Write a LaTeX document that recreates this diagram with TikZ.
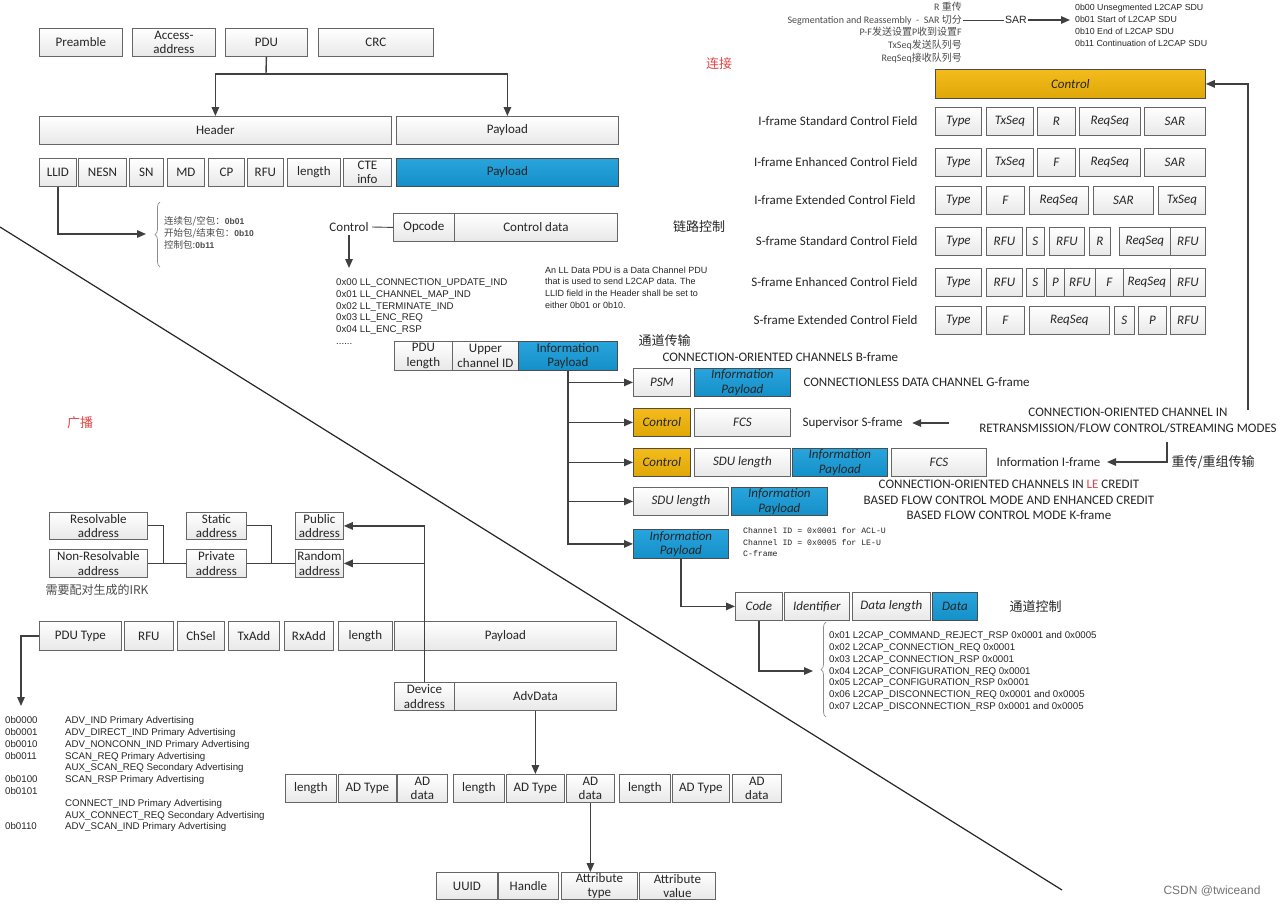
\documentclass[tikz,border=0pt]{standalone}
\usepackage{fontspec}
\setmainfont{Carlito}
\newfontfamily\arialf{Liberation Sans}
\newfontfamily\monof{Liberation Mono}
\newfontfamily\cjk{Noto Sans CJK SC}
\usetikzlibrary{arrows.meta,decorations.pathreplacing}
\definecolor{paybl}{RGB}{22,156,218}
\definecolor{ctlor}{RGB}{242,182,8}
\definecolor{lnc}{RGB}{64,64,64}
\definecolor{redl}{RGB}{222,70,70}
\newcommand{\bcode}[1]{{\arialf\bfseries\fontsize{8.5}{12}\selectfont #1}}
\begin{document}
\begin{tikzpicture}[x=1pt, y=-1pt,
  every node/.style={font=\fontsize{13}{14.5}\selectfont, text=black!85},
  wd/.style={minimum width=#1pt},
  ht/.style={minimum height=#1pt},
  fld/.style={draw=black!60, top color=white, bottom color=black!9, line width=0.8pt, anchor=north west,
    minimum height=28pt, inner sep=0.5pt, align=center},
  fldi/.style={fld, font=\fontsize{13}{14.5}\selectfont\itshape},
  blu/.style={top color=paybl!92!white, bottom color=paybl!92!black, draw=black!70},
  org/.style={top color=ctlor!92!white, bottom color=ctlor!92!black, draw=black!70},
  ln/.style={draw=lnc, line width=1.4pt},
  lnthin/.style={draw=lnc, line width=0.9pt},
  arr/.style={ln, -{Triangle[length=9pt,width=7.5pt]}},
  brc/.style={draw=black!45, line width=0.7pt, decorate, decoration={brace, amplitude=5pt}},
  lst/.style={anchor=north west, align=left, inner sep=0pt, font=\arialf\fontsize{9.7}{11.8}\selectfont},
  sml/.style={anchor=east, inner sep=1pt, text=black!70, font=\fontsize{10}{12}\selectfont},
  zh/.style={font=\cjk\fontsize{13}{15}\selectfont},
  redtag/.style={font=\cjk\fontsize{13}{15}\selectfont, text=redl}]
\useasboundingbox (0,0) rectangle (1280,906);
\fill[white] (0,0) rectangle (1280,906);

% link layer packet
\node[fld, wd=83] (pre) at (39,28) {Preamble};
\node[fld, wd=83] (acc) at (132,28) {Access-\\address};
\node[fld, wd=82] (pdu) at (225,28) {PDU};
\node[fld, wd=115] (crc) at (318,28) {CRC};
\node[fld, wd=352] (hdr) at (39,116) {Header};
\node[fld, wd=222] (pay) at (396,116) {Payload};
% data channel PDU header
\node[fld, wd=37] (llid) at (39,158) {LLID};
\node[fld, wd=48] (nesn) at (78,158) {NESN};
\node[fld, wd=34] (sn) at (129,158) {SN};
\node[fld, wd=37] (md) at (167,158) {MD};
\node[fld, wd=36] (cp) at (208,158) {CP};
\node[fld, wd=36] (rfu) at (247,158) {RFU};
\node[fld, wd=53] (len) at (287,158) {length};
\node[fld, wd=48] (cte) at (343,158) {CTE\\info};
\node[fld, blu, wd=222] (dpay) at (396,158) {Payload};
\node[anchor=north west, align=left, inner sep=0pt, text=black!70,
  font=\cjk\fontsize{9.5}{12}\selectfont] (llinfo) at (164,216)
  {连续包/空包：\bcode{0b01}\\开始包/结束包：\bcode{0b10}\\控制包:\bcode{0b11}};
\node[redtag] (conn) at (719,64) {连接};
% LL control PDU
\node (ctltxt) at (349,227) {Control};
\node[fld, wd=61] (opc) at (393,213) {Opcode};
\node[fld, wd=163] (cdat) at (454,213) {Control data};
\node[zh] (lkctl) at (699,227) {链路控制};
\coordinate (ctlend) at (349,268);
\node[lst] (llctl) at (336,278.5) {0x00 LL\_CONNECTION\_UPDATE\_IND\\0x01 LL\_CHANNEL\_MAP\_IND\\0x02 LL\_TERMINATE\_IND\\0x03 LL\_ENC\_REQ\\0x04 LL\_ENC\_RSP\\......};
\node[lst, font=\arialf\fontsize{9}{11.7}\selectfont] (anll) at (545,266.5)
  {An LL Data PDU is a Data Channel PDU\\that is used to send L2CAP data. The\\LLID field in the Header shall be set to\\either 0b01 or 0b10.};
% L2CAP basic header
\node[fld, wd=58, ht=29] (plen) at (394,341) {PDU\\length};
\node[fld, wd=66, ht=29] (uch) at (452,341) {Upper\\channel ID};
\node[fld, blu, wd=99, ht=29] (ipay) at (518,341) {Information\\Payload};
% L2CAP frames
\node[zh, anchor=west] (chtx) at (635,341) {通道传输};
\node[anchor=west] (bfr) at (659,357) {CONNECTION-ORIENTED CHANNELS B-frame};
\node[fldi, wd=57] (psm) at (633,368) {PSM};
\node[fldi, blu, wd=96] (gpl) at (694,368) {Information\\Payload};
\node[anchor=west] (gfr) at (800,382) {CONNECTIONLESS DATA CHANNEL G-frame};
\node[fldi, org, wd=57] (sctl) at (633,408) {Control};
\node[fldi, wd=96] (sfcs) at (694,408) {FCS};
\node[anchor=west] (sfr) at (799,423) {Supervisor S-frame};
\coordinate (svsrc) at (949,423);
\node[align=center, font=\fontsize{13}{16}\selectfont] (coc) at (1128,421)
  {CONNECTION-ORIENTED CHANNEL IN\\RETRANSMISSION/FLOW CONTROL/STREAMING MODES};
\node[fldi, org, wd=57] (ictl) at (633,448) {Control};
\node[fldi, wd=96] (isdu) at (694,448) {SDU length};
\node[fldi, blu, wd=95] (ipl) at (792,448) {Information\\Payload};
\node[fldi, wd=95] (ifcs) at (891,448) {FCS};
\node[anchor=west] (ifr) at (993,462) {Information I-frame};
\coordinate (rtsrc) at (1167,442);
\node[zh, anchor=west] (rtx) at (1168,462) {重传/重组传输};
\node[fldi, wd=95] (ksdu) at (633,487) {SDU length};
\node[fldi, blu, wd=96] (kpl) at (731,487) {Information\\Payload};
\node[align=center, font=\fontsize{13}{15.5}\selectfont] (kfr) at (1009,500)
  {CONNECTION-ORIENTED CHANNELS IN {\color{redl}LE} CREDIT\\BASED FLOW CONTROL MODE AND ENHANCED CREDIT\\BASED FLOW CONTROL MODE K-frame};
\node[fldi, blu, wd=95, ht=29] (cpl) at (633,529) {Information\\Payload};
\node[lst, font=\monof\fontsize{8.2}{11.5}\selectfont] (cid) at (743,527.5)
  {Channel ID = 0x0001 for ACL-U\\Channel ID = 0x0005 for LE-U\\C-frame};
% signaling packet
\node[fldi, wd=47] (code) at (735,592) {Code};
\node[fldi, wd=65] (ident) at (784,592) {Identifier};
\node[fldi, wd=78] (dlen) at (852,592) {Data length};
\node[fldi, blu, wd=45] (cdata) at (932,592) {Data};
\node[zh, anchor=west] (sigctl) at (1006,607) {通道控制};
\coordinate (sigtip) at (813,671);
\node[lst] (siglist) at (829,631.5) {0x01 L2CAP\_COMMAND\_REJECT\_RSP 0x0001 and 0x0005\\0x02 L2CAP\_CONNECTION\_REQ 0x0001\\0x03 L2CAP\_CONNECTION\_RSP 0x0001\\0x04 L2CAP\_CONFIGURATION\_REQ 0x0001\\0x05 L2CAP\_CONFIGURATION\_RSP 0x0001\\0x06 L2CAP\_DISCONNECTION\_REQ 0x0001 and 0x0005\\0x07 L2CAP\_DISCONNECTION\_RSP 0x0001 and 0x0005};

% control field formats
\node[sml] (rlbl) at (963,7) {R {\cjk 重传}};
\node[sml] (sarlbl) at (963,20) {Segmentation and Reassembly ~-~ SAR {\cjk 切分}};
\node[sml] (pflbl) at (963,32) {P-F{\cjk 发送设置}P{\cjk 收到设置}F};
\node[sml] (txlbl) at (963,45) {TxSeq{\cjk 发送队列号}};
\node[sml] (rqlbl) at (963,58) {ReqSeq{\cjk 接收队列号}};
\node[inner sep=1pt, font=\arialf\fontsize{10.5}{12}\selectfont] (sarmid) at (1016,20) {SAR};
\node[lst, font=\arialf\fontsize{8.8}{12.3}\selectfont] (sarlist) at (1075,3.5)
  {0b00 Unsegmented L2CAP SDU\\0b01 Start of L2CAP SDU\\0b10 End of L2CAP SDU\\0b11 Continuation of L2CAP SDU};
\node[fldi, org, wd=270, ht=29] (ctlbig) at (935,69) {Control};
\coordinate (retop) at (1248,410);
\node[anchor=east] (lb1) at (921,121) {I-frame Standard Control Field};
\node[fldi, wd=46] (r1a) at (935,107) {Type};
\node[fldi, wd=47] (r1b) at (986,107) {TxSeq};
\node[fldi, wd=38] (r1c) at (1037,107) {R};
\node[fldi, wd=61] (r1d) at (1079,107) {ReqSeq};
\node[fldi, wd=61] (r1e) at (1144,107) {SAR};
\node[anchor=east] (lb2) at (921,162) {I-frame Enhanced Control Field};
\node[fldi, wd=46] (r2a) at (935,148) {Type};
\node[fldi, wd=47] (r2b) at (986,148) {TxSeq};
\node[fldi, wd=38] (r2c) at (1037,148) {F};
\node[fldi, wd=61] (r2d) at (1079,148) {ReqSeq};
\node[fldi, wd=61] (r2e) at (1144,148) {SAR};
\node[anchor=east] (lb3) at (919,200) {I-frame Extended Control Field};
\node[fldi, wd=46] (r3a) at (935,186) {Type};
\node[fldi, wd=38] (r3b) at (986,186) {F};
\node[fldi, wd=59] (r3c) at (1029,186) {ReqSeq};
\node[fldi, wd=60] (r3d) at (1093,186) {SAR};
\node[fldi, wd=47] (r3e) at (1158,186) {TxSeq};
\node[anchor=east] (lb4) at (921,241) {S-frame Standard Control Field};
\node[fldi, wd=46] (r4a) at (935,227) {Type};
\node[fldi, wd=36] (r4b) at (986,227) {RFU};
\node[fldi, wd=18] (r4c) at (1026,227) {S};
\node[fldi, wd=35] (r4d) at (1049,227) {RFU};
\node[fldi, wd=21] (r4e) at (1089,227) {R};
\node[fldi, wd=51] (r4f) at (1119,227) {ReqSeq};
\node[fldi, wd=35] (r4g) at (1170,227) {RFU};
\node[anchor=east] (lb5) at (921,282) {S-frame Enhanced Control Field};
\node[fldi, wd=46] (r5a) at (935,268) {Type};
\node[fldi, wd=36] (r5b) at (986,268) {RFU};
\node[fldi, wd=18] (r5c) at (1026,268) {S};
\node[fldi, wd=18] (r5d) at (1046,268) {P};
\node[fldi, wd=31] (r5e) at (1064,268) {RFU};
\node[fldi, wd=28] (r5f) at (1095,268) {F};
\node[fldi, wd=47] (r5g) at (1123,268) {ReqSeq};
\node[fldi, wd=35] (r5h) at (1170,268) {RFU};
\node[anchor=east] (lb6) at (921,320) {S-frame Extended Control Field};
\node[fldi, wd=46] (r6a) at (935,306) {Type};
\node[fldi, wd=38] (r6b) at (986,306) {F};
\node[fldi, wd=80] (r6c) at (1029,306) {ReqSeq};
\node[fldi, wd=20] (r6d) at (1114,306) {S};
\node[fldi, wd=28] (r6e) at (1138,306) {P};
\node[fldi, wd=35] (r6f) at (1170,306) {RFU};

% advertising channel PDU
\node[redtag] (bcast) at (80,423) {广播};
\node[fld, wd=98, ht=27] (res) at (49,512) {Resolvable\\address};
\node[fld, wd=98] (nres) at (49,549) {Non-Resolvable\\address};
\node[fld, wd=60, ht=27] (sta) at (186,512) {Static\\address};
\node[fld, wd=60] (prv) at (186,549) {Private\\address};
\node[fld, wd=48, ht=27] (pub) at (295,512) {Public\\address};
\node[fld, wd=48] (rnd) at (295,549) {Random\\address};
\node[anchor=west, text=black!70, font=\cjk\fontsize{12}{14}\selectfont] (irk) at (42,590) {需要配对生成的IRK};
\node[fld, wd=82, ht=29] (ptype) at (39,621) {PDU Type};
\node[fld, wd=49, ht=29] (brfu) at (124,621) {RFU};
\node[fld, wd=47, ht=29] (chsel) at (177,621) {ChSel};
\node[fld, wd=51, ht=29] (txa) at (228,621) {TxAdd};
\node[fld, wd=49, ht=29] (rxa) at (284,621) {RxAdd};
\node[fld, wd=54, ht=29] (blen) at (338,621) {length};
\node[fld, wd=222, ht=29] (bpay) at (394,621) {Payload};
\coordinate (ptend) at (21,706);
\node[lst] (pcode) at (5,716.5) {0b0000\\0b0001\\0b0010\\0b0011\\\mbox{}\\0b0100\\0b0101\\\mbox{}\\\mbox{}\\0b0110};
\node[lst] (pdesc) at (65,716.5) {ADV\_IND Primary Advertising\\ADV\_DIRECT\_IND Primary Advertising\\ADV\_NONCONN\_IND Primary Advertising\\SCAN\_REQ Primary Advertising\\AUX\_SCAN\_REQ Secondary Advertising\\SCAN\_RSP Primary Advertising\\\mbox{}\\CONNECT\_IND Primary Advertising\\AUX\_CONNECT\_REQ Secondary Advertising\\ADV\_SCAN\_IND Primary Advertising};
\node[fld, wd=60] (dev) at (394,682) {Device\\address};
\node[fld, wd=162] (adv) at (454,682) {AdvData};
% AD structures
\node[fld, wd=51] (l1) at (285,774) {length};
\node[fld, wd=58] (t1) at (338,774) {AD Type};
\node[fld, wd=50] (d1) at (397,774) {AD\\data};
\node[fld, wd=51] (l2) at (453,774) {length};
\node[fld, wd=58] (t2) at (506,774) {AD Type};
\node[fld, wd=48] (d2) at (566,774) {AD\\data};
\node[fld, wd=51] (l3) at (619,774) {length};
\node[fld, wd=57] (t3) at (672,774) {AD Type};
\node[fld, wd=49] (d3) at (732,774) {AD\\data};
\node[fld, wd=61, ht=27] (uuid) at (436,872) {UUID};
\node[fld, wd=60, ht=27] (hdl) at (498,872) {Handle};
\node[fld, wd=76, ht=27] (atyp) at (561,872) {Attribute\\type};
\node[fld, wd=76, ht=27] (aval) at (639,872) {Attribute\\value};
\node[text=black!55, font=\arialf\fontsize{12}{14}\selectfont] (wm) at (1212,891) {CSDN @twiceand};

% connectors
\coordinate (pdusplit) at (266,74);
\draw[ln] (pdu.south) -- (pdusplit);
\draw[arr] (pdusplit) -| (hdr.north);
\draw[arr] (pdusplit) -| (pay.north);
\coordinate (llidtip) at (146,234);
\draw[arr] (llid.south) |- (llidtip);
\draw[brc] (160,267) -- (160,202);
\draw[lnthin] (ctltxt.east) -- (opc.west);
\draw[arr] (ctltxt.south) -- (ctlend);
\draw[arr] (ipay.south) |- (psm.west);
\draw[arr] (ipay.south) |- (sctl.west);
\draw[arr] (ipay.south) |- (ictl.west);
\draw[arr] (ipay.south) |- (ksdu.west);
\draw[arr] (ipay.south) |- (cpl.west);
\draw[arr] (cpl.south) |- (code.west);
\draw[arr] (code.south) |- (sigtip);
\draw[brc] (826,717) -- (826,622);
\draw[arr] (retop) |- (ctlbig.east);
\draw[arr, shorten >=6pt] (svsrc) -- (sfr.east);
\draw[arr, shorten >=3pt] (rtsrc) |- (ifr.east);
\draw[lnthin] (sarlbl.east) -- (sarmid.west);
\draw[arr, shorten >=5pt] (sarmid.east) -- (sarmid -| sarlist.west);
\draw[lnthin] (res.east) -- ++(16,0) |- (prv.west);
\draw[lnthin] (nres.east) -- (prv.west);
\draw[lnthin] (sta.east) -- ++(25,0) |- (rnd.west);
\draw[lnthin] (prv.east) -- (rnd.west);
\draw[arr] (dev.north) |- (pub.east);
\draw[arr] (dev.north) |- (rnd.east);
\draw[arr] (ptype.west) -| (ptend);
\draw[arr] (adv.south) -- (adv.south |- t2.north);
\draw[arr] (d2.south) -- (d2.south |- atyp.north);
% divides connection and advertising
\draw[black!85, line width=1.2pt] (0,227) -- (1062,890);
\end{tikzpicture}
\end{document}
